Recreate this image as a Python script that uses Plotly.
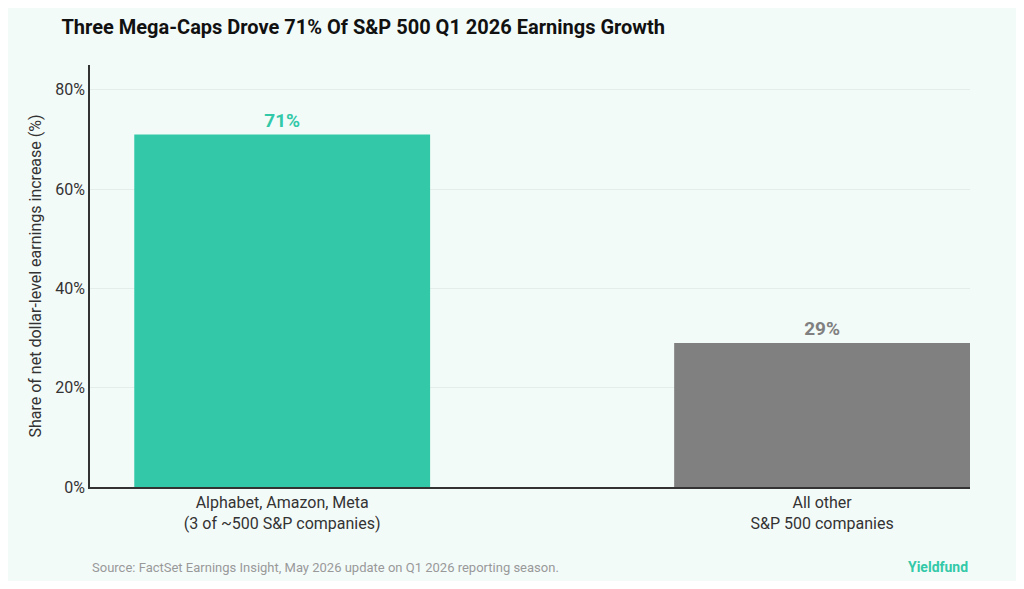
import plotly.graph_objects as go

categories = ["Alphabet, Amazon, Meta<br>(3 of ~500 S&P companies)", "All other<br>S&P 500 companies"]
shares = [71, 29]
labels = ["<b>71%</b>", "<b>29%</b>"]
colors = ["#33C9A8", "#808080"]
tick_vals = [0, 20, 40, 60, 80]
tick_text = ["0%", "20%", "40%", "60%", "80%"]

fig = go.Figure(go.Bar(
    x=[0, 1], y=shares, width=0.548,
    marker_color=colors, marker_line_width=0,
    text=labels, textposition="outside",
    textfont=dict(size=19, color=colors, family="Roboto"),
    cliponaxis=False,
))

fig.update_layout(
    width=1008, height=573,
    paper_bgcolor="#F3FBF9", plot_bgcolor="#F3FBF9",
    font=dict(family="Roboto", color="#333333"),
    margin=dict(l=82, r=46, t=57, b=94),
    showlegend=False,
    title=dict(text="<b>Three Mega-Caps Drove 71% Of S&P 500 Q1 2026 Earnings Growth</b>",
               x=0.053, xanchor="left", y=0.967, yanchor="middle",
               font=dict(size=20, color="#111111")),
    xaxis=dict(range=[-0.356, 1.274], tickvals=[0, 1], ticktext=categories,
               showline=True, linecolor="#333333", linewidth=1.5, showgrid=False,
               tickfont=dict(size=16, color="#333333"), ticks=""),
    yaxis=dict(range=[0, 85], tickvals=tick_vals, ticktext=tick_text,
               showline=True, linecolor="#333333", linewidth=1.5,
               gridcolor="#E3EEEB", zeroline=False,
               tickfont=dict(size=16, color="#333333"),
               title=dict(text="Share of net dollar-level earnings increase (%)",
                          font=dict(size=16, color="#333333"), standoff=10)),
    annotations=[
        dict(text="Source: FactSet Earnings Insight, May 2026 update on Q1 2026 reporting season.",
             xref="paper", yref="paper", x=0.0, y=-0.19, xanchor="left", yanchor="middle",
             showarrow=False, font=dict(size=13, color="#999999")),
        dict(text="<b>Yieldfund</b>", xref="paper", yref="paper", x=1.0, y=-0.19,
             xanchor="right", yanchor="middle", showarrow=False,
             font=dict(size=14, color="#33C9A8")),
    ],
)

fig.write_html("out.html")
